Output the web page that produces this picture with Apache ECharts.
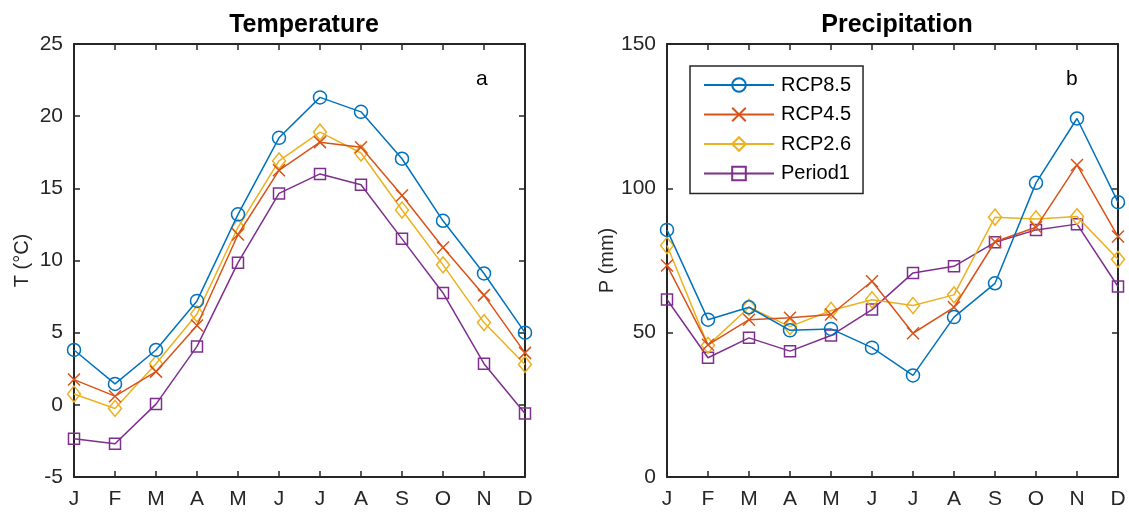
<!DOCTYPE html>
<html>
<head>
<meta charset="utf-8">
<script src="https://cdn.jsdelivr.net/npm/echarts@6/dist/echarts.min.js"></script>
<style>
  html, body { margin: 0; padding: 0; background: #fff; }
  #chart { width: 1129px; height: 513px; }
</style>
</head>
<body>
<div id="chart"></div>
<script>
// Monthly climate series
const months = ['J', 'F', 'M', 'A', 'M', 'J', 'J', 'A', 'S', 'O', 'N', 'D'];
const seriesNames = ['RCP8.5', 'RCP4.5', 'RCP2.6', 'Period1'];

// Temperature (°C)
const tempRcp85 = [3.8, 1.45, 3.8, 7.2, 13.2, 18.5, 21.3, 20.3, 17.05, 12.75, 9.1, 5.0];
const tempRcp45 = [1.75, 0.6, 2.3, 5.5, 11.8, 16.25, 18.2, 17.85, 14.5, 10.9, 7.6, 3.6];
const tempRcp26 = [0.75, -0.25, 2.85, 6.3, 12.3, 16.9, 18.9, 17.45, 13.5, 9.7, 5.7, 2.8];
const tempPeriod1 = [-2.35, -2.7, 0.05, 4.05, 9.85, 14.65, 16.0, 15.25, 11.5, 7.75, 2.85, -0.6];

// Precipitation (mm)
const precRcp85 = [85.6, 54.5, 58.8, 50.8, 51.3, 44.8, 35.2, 55.4, 67.1, 101.9, 124.2, 95.2];
const precRcp45 = [73.3, 45.8, 54.5, 55.2, 56.3, 67.8, 49.8, 58.8, 81.5, 86.5, 108.1, 83.3];
const precRcp26 = [80.2, 45.6, 58.8, 52.1, 57.7, 61.4, 59.4, 63.1, 90.0, 89.4, 90.2, 75.4];
const precPeriod1 = [61.5, 41.3, 48.2, 43.6, 49.0, 58.0, 70.7, 73.0, 81.3, 85.6, 87.6, 66.0];

// Axis ticks
const tempTicks = { min: -5, max: 25, interval: 5 };
const precTicks = { min: 0, max: 150, interval: 50 };

const colors = ['#0072BD', '#D95319', '#EDB120', '#7E2F8E'];
const symbols = ['circle', 'path://M0,0L10,10M10,0L0,10', 'diamond', 'rect'];
const symbolSizes = [13, 12, [13, 16], 11];
const axisColor = '#262626';
const fontFamily = '"Liberation Sans", Arial, Helvetica, sans-serif';

const gridBox = [
  { left: 74, right: 604, top: 44, bottom: 36 },
  { left: 667, right: 11, top: 44, bottom: 36 }
];

function makeXAxis(gridIndex, position, showLabels) {
  return {
    type: 'category', gridIndex, position, data: months, boundaryGap: false,
    axisLine: { show: true, onZero: false, lineStyle: { color: axisColor, width: 2 } },
    axisTick: { show: true, inside: true, length: 6, lineStyle: { color: axisColor, width: 1.5 } },
    axisLabel: { show: showLabels, color: axisColor, fontSize: 21, fontFamily, margin: 12 },
    splitLine: { show: false }
  };
}

function makeYAxis(gridIndex, position, ticks, name, showLabels) {
  return {
    type: 'value', gridIndex, position, min: ticks.min, max: ticks.max, interval: ticks.interval,
    name: showLabels ? name : '', nameLocation: 'middle', nameGap: 42,
    nameTextStyle: { color: axisColor, fontSize: 20, fontFamily },
    axisLine: { show: true, onZero: false, lineStyle: { color: axisColor, width: 2 } },
    axisTick: { show: true, inside: true, length: 6, lineStyle: { color: axisColor, width: 1.5 } },
    axisLabel: { show: showLabels, color: axisColor, fontSize: 21, fontFamily, margin: 11 },
    splitLine: { show: false }
  };
}

function makeSeries(data, idx, axisIndex) {
  return {
    type: 'line', name: seriesNames[idx], data,
    xAxisIndex: axisIndex, yAxisIndex: axisIndex,
    symbol: symbols[idx], symbolSize: symbolSizes[idx], showAllSymbol: true,
    lineStyle: { color: colors[idx], width: 1.5 },
    itemStyle: { color: 'rgba(255,255,255,0)', borderColor: colors[idx], borderWidth: 1.5 },
    emphasis: { disabled: true },
    animation: false, z: 10 - idx
  };
}

const tempSets = [tempRcp85, tempRcp45, tempRcp26, tempPeriod1];
const precSets = [precRcp85, precRcp45, precRcp26, precPeriod1];

const chart = echarts.init(document.getElementById('chart'), null, { renderer: 'canvas' });

chart.setOption({
  backgroundColor: '#ffffff',
  animation: false,
  textStyle: { fontFamily },
  title: [
    { text: 'Temperature', left: 299, top: 8, textAlign: 'center',
      textStyle: { fontSize: 25, fontWeight: 'bold', color: '#000', fontFamily } },
    { text: 'Precipitation', left: 892, top: 8, textAlign: 'center',
      textStyle: { fontSize: 25, fontWeight: 'bold', color: '#000', fontFamily } }
  ],
  grid: gridBox.map(g => Object.assign({ show: false, containLabel: false }, g)),
  xAxis: [
    makeXAxis(0, 'bottom', true), makeXAxis(0, 'top', false),
    makeXAxis(1, 'bottom', true), makeXAxis(1, 'top', false)
  ],
  yAxis: [
    makeYAxis(0, 'left', tempTicks, 'T (°C)', true), makeYAxis(0, 'right', tempTicks, '', false),
    makeYAxis(1, 'left', precTicks, 'P (mm)', true), makeYAxis(1, 'right', precTicks, '', false)
  ],
  legend: {
    data: seriesNames,
    orient: 'vertical',
    left: 690, top: 66,
    padding: [9, 12, 10, 13],
    itemWidth: 70, itemHeight: 17, itemGap: 9.5,
    backgroundColor: '#fff',
    borderColor: axisColor, borderWidth: 1.5, borderRadius: 0,
    textStyle: { color: '#000', fontSize: 20, fontFamily, lineHeight: 20, padding: [0, 0, 0, 2] },
    selectedMode: false
  },
  graphic: [
    { type: 'text', left: 476, top: 69, style: { text: 'a', font: '21px ' + fontFamily, fill: '#000' } },
    { type: 'text', left: 1066, top: 69, style: { text: 'b', font: '21px ' + fontFamily, fill: '#000' } }
  ],
  series: [
    ...tempSets.map((d, i) => makeSeries(d, i, 0)),
    ...precSets.map((d, i) => makeSeries(d, i, 2))
  ]
});
</script>
</body>
</html>
